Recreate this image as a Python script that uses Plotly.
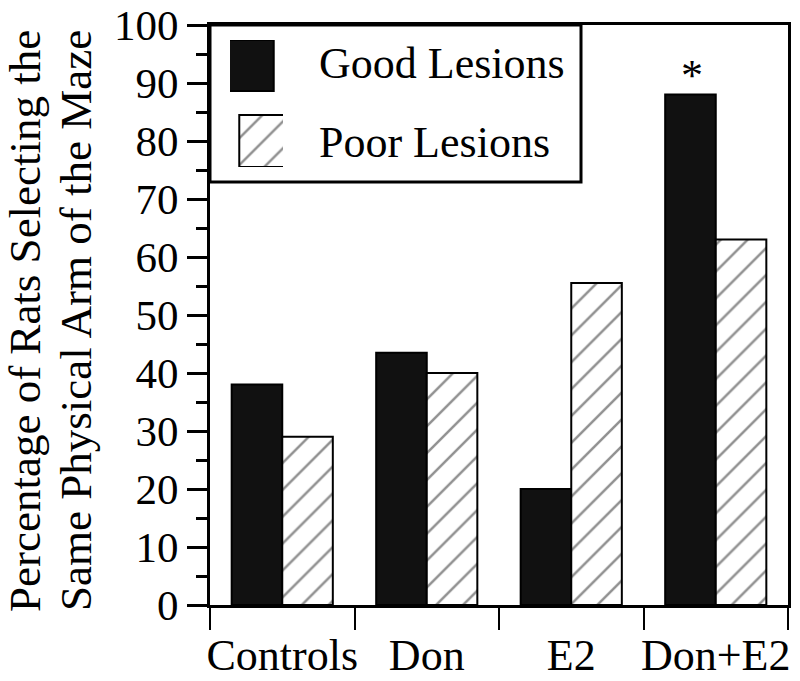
import plotly.graph_objects as go

categories = ["Controls", "Don", "E2", "Don+E2"]
good_lesions = [38, 43.5, 20, 88]
poor_lesions = [29, 40, 55.5, 63]
series_names = ["Good Lesions", "Poor Lesions"]
y_ticks = list(range(0, 101, 10))
significant = ["Don+E2"]
y_title_lines = ["Percentage of Rats Selecting the", "Same Physical Arm of the Maze"]

FONT = "'Liberation Serif', 'Times New Roman', Times, serif"
W, H = 800, 681
ML, MR, MT, MB = 210, 12, 25, 76
PW, PH = W - ML - MR, H - MT - MB


def px_x(p):
    return (p - ML) / PW


def px_y(p):
    return (H - MB - p) / PH


hatch = dict(shape="/", fgcolor="#222222", bgcolor="white", size=19, solidity=0.13)

fig = go.Figure()
fig.add_trace(go.Bar(
    x=categories, y=good_lesions, name=series_names[0],
    marker=dict(color="#111111", line=dict(color="black", width=2)),
    showlegend=False,
))
fig.add_trace(go.Bar(
    x=categories, y=poor_lesions, name=series_names[1],
    marker=dict(color="white", pattern=hatch, line=dict(color="black", width=2)),
    showlegend=False,
))

# legend swatches drawn on an auxiliary axis (pixel units inside legend)
fig.add_trace(go.Bar(
    x=[0.5], y=[51], base=[76], width=[1], xaxis="x2", yaxis="y2",
    marker=dict(color="#111111", line=dict(color="black", width=2)),
    showlegend=False, hoverinfo="skip",
))
fig.add_trace(go.Bar(
    x=[0.5], y=[52], base=[0], width=[1], xaxis="x2", yaxis="y2",
    marker=dict(color="white", pattern=hatch, line=dict(color="black", width=2)),
    showlegend=False, hoverinfo="skip",
))

annotations = []
for c in significant:
    i = categories.index(c)
    annotations.append(dict(
        x=c, y=good_lesions[i], xref="x", yref="y", text="*",
        showarrow=False, xshift=-24, yanchor="bottom", yshift=-7,
        font=dict(family=FONT, size=44, color="black"),
    ))
annotations.append(dict(x=px_x(317), y=px_y(63), xref="paper", yref="paper",
                        text=series_names[0], showarrow=False, xanchor="left", yanchor="middle",
                        font=dict(family=FONT, size=44, color="black")))
annotations.append(dict(x=px_x(317), y=px_y(142), xref="paper", yref="paper",
                        text=series_names[1], showarrow=False, xanchor="left", yanchor="middle",
                        font=dict(family=FONT, size=44, color="black")))
for line, cx in zip(y_title_lines, [25, 76]):
    annotations.append(dict(x=px_x(cx), y=px_y(321), xref="paper", yref="paper",
                            text=line, textangle=-90, showarrow=False,
                            xanchor="center", yanchor="middle",
                            font=dict(family=FONT, size=45, color="black")))

fig.update_layout(
    width=W, height=H,
    margin=dict(l=ML, r=MR, t=MT, b=MB, autoexpand=False),
    paper_bgcolor="white", plot_bgcolor="white",
    barmode="group", bargap=0.3, bargroupgap=0,
    font=dict(family=FONT, size=43, color="black"),
    showlegend=False,
    xaxis=dict(
        type="category", tickson="boundaries", ticks="outside", ticklen=22,
        tickwidth=2, tickcolor="black", showline=True, linecolor="black", linewidth=3,
        mirror=True, showgrid=False, tickfont=dict(size=44), tickangle=0, automargin=False,
        ticklabelstandoff=9,
    ),
    yaxis=dict(
        range=[0, 100], tickvals=y_ticks, ticks="outside", ticklen=20, tickwidth=3,
        tickcolor="black", showline=True, linecolor="black", linewidth=3, mirror=True,
        showgrid=False, zeroline=False, tickfont=dict(size=43), automargin=False,
        minor=dict(dtick=5, ticks="outside", ticklen=11, tickwidth=3, tickcolor="black", showgrid=False),
    ),
    xaxis2=dict(domain=[px_x(230), px_x(283)], range=[0, 1], visible=False, anchor="y2"),
    yaxis2=dict(domain=[px_y(167), px_y(40)], range=[0, 127], visible=False, anchor="x2"),
    shapes=[dict(type="rect", xref="paper", yref="paper", x0=0, x1=px_x(581),
                 y0=px_y(182), y1=1, line=dict(color="black", width=3), fillcolor="white",
                 layer="below")],
    annotations=annotations,
)

fig.write_html("out.html", config={"displayModeBar": False},
               post_script="document.body.style.margin='0';document.body.style.overflow='hidden';")
